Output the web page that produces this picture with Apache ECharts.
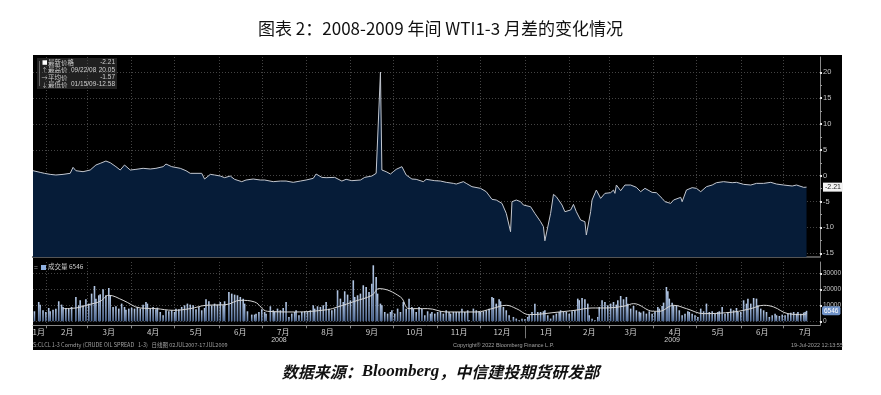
<!DOCTYPE html>
<html><head><meta charset="utf-8">
<script src="https://cdn.jsdelivr.net/npm/echarts@6/dist/echarts.min.js"></script>
<style>html,body{margin:0;padding:0;background:#fff}#c{width:881px;height:395px}</style>
</head><body><div id="c"></div>
<script>
// ---- spread (WTI 1-3) ----
const lineDates = ['2008-01-23','2008-01-28','2008-01-31','2008-02-04','2008-02-08','2008-02-13','2008-02-18','2008-02-20','2008-02-22','2008-02-27','2008-03-03','2008-03-07','2008-03-10','2008-03-14','2008-03-17','2008-03-21','2008-03-24','2008-03-27','2008-03-31','2008-04-04','2008-04-09','2008-04-14','2008-04-18','2008-04-23','2008-04-25','2008-04-29','2008-05-05','2008-05-09','2008-05-12','2008-05-16','2008-05-20','2008-05-22','2008-05-26','2008-05-29','2008-06-02','2008-06-05','2008-06-09','2008-06-12','2008-06-17','2008-06-20','2008-06-25','2008-06-30','2008-07-03','2008-07-09','2008-07-14','2008-07-18','2008-07-23','2008-07-28','2008-08-01','2008-08-06','2008-08-08','2008-08-12','2008-08-15','2008-08-21','2008-08-26','2008-08-29','2008-09-02','2008-09-08','2008-09-11','2008-09-16','2008-09-19','2008-09-22','2008-09-23','2008-09-26','2008-09-29','2008-10-01','2008-10-03','2008-10-07','2008-10-10','2008-10-14','2008-10-17','2008-10-22','2008-10-24','2008-10-30','2008-11-03','2008-11-07','2008-11-12','2008-11-14','2008-11-19','2008-11-21','2008-11-25','2008-12-01','2008-12-05','2008-12-09','2008-12-12','2008-12-16','2008-12-19','2008-12-22','2008-12-23','2008-12-26','2008-12-29','2008-12-31','2009-01-05','2009-01-08','2009-01-12','2009-01-14','2009-01-15','2009-01-19','2009-01-21','2009-01-23','2009-01-27','2009-01-29','2009-02-02','2009-02-04','2009-02-06','2009-02-09','2009-02-12','2009-02-13','2009-02-16','2009-02-17','2009-02-20','2009-02-23','2009-02-26','2009-03-02','2009-03-04','2009-03-05','2009-03-06','2009-03-09','2009-03-12','2009-03-16','2009-03-20','2009-03-23','2009-03-26','2009-03-31','2009-04-03','2009-04-07','2009-04-09','2009-04-13','2009-04-15','2009-04-20','2009-04-21','2009-04-24','2009-04-28','2009-05-01','2009-05-04','2009-05-08','2009-05-12','2009-05-15','2009-05-20','2009-05-26','2009-05-29','2009-06-03','2009-06-08','2009-06-12','2009-06-17','2009-06-22','2009-06-26','2009-07-01','2009-07-07','2009-07-10','2009-07-15','2009-07-17'];
const lineValues = [0.97,0.65,0.46,0.26,0.14,0.26,0.46,1.62,0.97,0.78,1.10,2.07,2.39,2.84,2.52,1.75,1.10,2.07,1.10,1.23,1.43,1.30,1.43,1.75,2.26,1.75,1.43,0.97,0.46,0.46,0.46,-0.64,0.26,0.14,-0.06,-0.38,-0.06,-0.70,-1.15,-0.83,-0.64,-0.83,-0.83,-1.15,-1.03,-1.03,-1.28,-1.03,-0.83,-0.51,0.33,-0.32,-0.38,-0.32,-1.03,-0.70,-0.96,-0.83,-0.32,-0.06,0.46,20.05,1.10,0.78,0.33,0.78,1.23,1.75,0.14,-0.64,-0.70,-1.15,-0.70,-0.96,-1.03,-1.28,-1.48,-1.61,-1.15,-1.48,-2.12,-2.44,-3.09,-4.57,-4.70,-5.35,-7.28,-10.83,-5.02,-4.70,-5.02,-5.67,-5.99,-7.28,-8.89,-9.86,-12.58,-7.28,-3.61,-4.06,-5.67,-6.96,-6.63,-5.54,-6.96,-8.57,-8.89,-11.47,-6.96,-4.70,-2.77,-4.38,-3.41,-3.28,-2.77,-3.41,-1.80,-2.90,-1.80,-1.80,-2.25,-3.09,-2.44,-3.22,-3.28,-4.38,-5.02,-5.35,-4.70,-4.18,-5.02,-2.77,-2.31,-2.44,-3.09,-2.12,-1.80,-1.35,-1.15,-1.35,-1.28,-1.67,-1.80,-1.48,-1.48,-1.28,-1.61,-1.80,-1.99,-1.80,-2.25,-2.21];

// ---- volume ----
const volDates = ['2008-01-24','2008-01-27','2008-01-28','2008-01-30','2008-02-01','2008-02-03','2008-02-04','2008-02-06','2008-02-08','2008-02-10','2008-02-12','2008-02-13','2008-02-15','2008-02-17','2008-02-19','2008-02-22','2008-02-24','2008-02-25','2008-02-27','2008-02-29','2008-03-02','2008-03-04','2008-03-06','2008-03-07','2008-03-09','2008-03-10','2008-03-12','2008-03-14','2008-03-16','2008-03-17','2008-03-19','2008-03-21','2008-03-23','2008-03-25','2008-03-27','2008-03-28','2008-03-30','2008-04-01','2008-04-03','2008-04-05','2008-04-07','2008-04-09','2008-04-11','2008-04-12','2008-04-14','2008-04-16','2008-04-18','2008-04-19','2008-04-21','2008-04-23','2008-04-25','2008-04-27','2008-04-29','2008-05-01','2008-05-02','2008-05-04','2008-05-06','2008-05-08','2008-05-10','2008-05-12','2008-05-14','2008-05-16','2008-05-18','2008-05-20','2008-05-22','2008-05-23','2008-05-25','2008-05-27','2008-05-29','2008-05-31','2008-06-02','2008-06-04','2008-06-05','2008-06-08',
'2008-06-10','2008-06-12','2008-06-14','2008-06-16','2008-06-18','2008-06-19','2008-06-21','2008-06-24','2008-06-26','2008-06-27','2008-06-29','2008-07-01','2008-07-03','2008-07-04','2008-07-07','2008-07-09','2008-07-10','2008-07-12','2008-07-14','2008-07-16','2008-07-18','2008-07-20','2008-07-22','2008-07-24','2008-07-25','2008-07-27','2008-07-29','2008-07-31','2008-08-02','2008-08-04','2008-08-06','2008-08-07','2008-08-09','2008-08-11','2008-08-13','2008-08-15','2008-08-17','2008-08-19','2008-08-21','2008-08-23','2008-08-25','2008-08-27','2008-08-28','2008-08-30','2008-09-01','2008-09-03','2008-09-04','2008-09-06','2008-09-08','2008-09-10','2008-09-12','2008-09-14','2008-09-16','2008-09-17','2008-09-19','2008-09-20','2008-09-22','2008-09-23','2008-09-25','2008-09-27','2008-09-29','2008-09-30','2008-10-02','2008-10-04','2008-10-06','2008-10-08','2008-10-10','2008-10-12','2008-10-14','2008-10-15','2008-10-17','2008-10-19','2008-10-21','2008-10-23','2008-10-25',
'2008-10-27','2008-10-28','2008-10-30','2008-11-01','2008-11-03','2008-11-05','2008-11-07','2008-11-09','2008-11-10','2008-11-12','2008-11-14','2008-11-16','2008-11-18','2008-11-20','2008-11-22','2008-11-23','2008-11-26','2008-11-28','2008-11-30','2008-12-01','2008-12-03','2008-12-05','2008-12-07','2008-12-09','2008-12-10','2008-12-12','2008-12-14','2008-12-15','2008-12-17','2008-12-19','2008-12-21','2008-12-22','2008-12-24','2008-12-26','2008-12-28','2008-12-30','2009-01-01','2009-01-03','2009-01-04','2009-01-06','2009-01-08','2009-01-10','2009-01-12','2009-01-14','2009-01-15','2009-01-17','2009-01-19','2009-01-21','2009-01-23','2009-01-25','2009-01-26','2009-01-28','2009-01-30','2009-02-01','2009-02-03','2009-02-05','2009-02-07','2009-02-08','2009-02-10','2009-02-12','2009-02-14','2009-02-15','2009-02-17','2009-02-19','2009-02-21','2009-02-22','2009-02-24','2009-02-26','2009-02-28','2009-03-02','2009-03-04','2009-03-06','2009-03-07','2009-03-09','2009-03-11',
'2009-03-13','2009-03-14','2009-03-16','2009-03-18','2009-03-20','2009-03-22','2009-03-23','2009-03-25','2009-03-27','2009-03-29','2009-03-31','2009-04-02','2009-04-04','2009-04-05','2009-04-07','2009-04-08','2009-04-10','2009-04-11','2009-04-12','2009-04-14','2009-04-15','2009-04-17','2009-04-19','2009-04-21','2009-04-23','2009-04-25','2009-04-26','2009-04-28','2009-04-30','2009-05-02','2009-05-04','2009-05-06','2009-05-08','2009-05-10','2009-05-12','2009-05-14','2009-05-16','2009-05-17','2009-05-19','2009-05-21','2009-05-23','2009-05-25','2009-05-27','2009-05-29','2009-05-30','2009-06-01','2009-06-03','2009-06-05','2009-06-06','2009-06-08','2009-06-10','2009-06-12','2009-06-13','2009-06-15','2009-06-17','2009-06-19','2009-06-21','2009-06-23','2009-06-25','2009-06-26','2009-06-28','2009-06-30','2009-07-02','2009-07-04','2009-07-06','2009-07-08','2009-07-10','2009-07-11','2009-07-13','2009-07-15','2009-07-16','2009-07-17'];
const volValues = [6250,12080,10420,6870,5830,8330,6250,7290,7920,12500,10420,8960,8330,7920,8960,15210,10000,13120,10000,13750,11040,17290,22080,14160,16250,16870,20000,16250,20830,16250,8960,9370,7920,11040,8960,7290,7920,8540,7920,8960,7920,10420,12080,11040,7920,8960,7500,8540,5830,3750,6870,6250,6870,5830,7920,7500,8960,10000,11040,10420,10000,7500,8960,6870,8330,13750,12500,10000,11040,10420,12080,10000,12500,18330,
17290,16660,16250,15210,14160,11040,6250,4170,4170,4790,5830,7500,5830,4790,9370,6870,6250,7920,6870,8330,12080,2710,4790,5830,6870,3750,5830,6250,6250,6870,10000,7920,9370,8960,10000,12080,7920,6870,7920,19370,14160,12080,18750,16660,13120,25620,15210,16250,17290,22500,21450,18330,23540,35000,27700,17290,11040,10000,5830,4790,5830,6870,4790,7920,5830,12080,7920,14160,8960,7920,5830,8960,7920,3750,6250,
4790,5830,4790,5830,6250,4790,6870,5830,4790,5830,5830,5830,7920,5830,6870,620,7920,6870,6250,5830,6250,6870,7920,15210,14580,11040,13750,12500,8960,6870,3750,400,2710,1670,620,1670,1250,2710,3750,5830,11040,5830,5830,6250,6870,3750,1670,3750,4790,5830,6870,6250,5830,4790,6250,6870,14160,13120,14580,13750,11040,3750,1670,620,2710,8960,13120,12080,10000,11040,12080,10420,13120,15830,13750,
15210,11040,7920,9580,6870,6000,5420,6250,4790,6250,4790,5830,8960,7920,9580,11660,21450,18750,14160,11660,10000,10000,6870,3750,4790,6250,5830,4790,3750,2710,7920,6250,11040,5830,6250,4790,5830,6250,8960,4790,5830,7920,6870,8330,5830,5830,13120,11040,14160,11040,14580,14160,10000,7920,6870,5830,2710,3750,4790,3750,3330,4170,3750,4790,5420,5830,4790,5830,4790,5420,5830,6546];

// ---- volume moving average ----
const maDates = ['2008-02-13','2008-02-22','2008-03-02','2008-03-10','2008-03-16','2008-03-26','2008-04-07','2008-04-18','2008-04-30','2008-05-12','2008-05-23','2008-06-06','2008-06-16','2008-06-26','2008-07-05','2008-07-24','2008-08-16','2008-08-23','2008-09-04','2008-09-16','2008-09-21','2008-10-06','2008-10-12','2008-10-25','2008-11-07','2008-11-28','2008-12-09','2008-12-19','2008-12-26','2009-01-04','2009-01-25','2009-02-05','2009-02-17','2009-02-26','2009-03-12','2009-03-18','2009-04-01','2009-04-05','2009-04-15','2009-04-24','2009-05-06','2009-05-27','2009-06-08','2009-06-17','2009-06-24','2009-07-04','2009-07-15','2009-07-17'];
const maValues = [7920,8330,10420,12500,16250,13120,8330,7920,6870,7920,10000,10420,13120,12080,6250,5830,7290,8960,12500,16250,20420,15210,7920,7920,5830,5830,7920,10000,7920,4170,5830,6870,8330,8330,9580,11040,6250,6250,10000,7920,4790,5830,7920,10000,8960,4790,4170,4790];

// ---- axes ----
const monthStarts = ['2008-02-01','2008-03-01','2008-04-01','2008-05-01','2008-06-01','2008-07-01','2008-08-01','2008-09-01','2008-10-01','2008-11-01','2008-12-01','2009-01-01','2009-02-01','2009-03-01','2009-04-01','2009-05-01','2009-06-01','2009-07-01'];
const monthLabels = ['1月','2月','3月','4月','5月','6月','7月','8月','9月','10月','11月','12月','1月','2月','3月','4月','5月','6月','7月'];
const monthLabelDates = ['2008-01-27','2008-02-16','2008-03-16','2008-04-16','2008-05-16','2008-06-16','2008-07-16','2008-08-16','2008-09-16','2008-10-16','2008-11-16','2008-12-16','2009-01-16','2009-02-15','2009-03-16','2009-04-16','2009-05-16','2009-06-16','2009-07-16'];
const yearLabels = ['2008','2009'];
const yearLabelDates = ['2008-07-13','2009-04-14'];
const yearBreak = ['2009-01-01'];
const spreadTicks = [-15,-10,-5,0,5,10,15,20];
const spreadMinorTicks = [-12.5,-7.5,-2.5,2.5,7.5,12.5,17.5];
const volTicks = [0,10000,20000,30000];
const xMinDate = '2008-01-23 00:00:00', xMaxDate = '2009-07-26 10:00:00';
const lastSpread = -2.21, lastVol = 6546;
const statRows = [['最新价格','','-2.21'],['最高价','09/22/08','20.05'],['平均价','','-1.57'],['最低价','01/15/09','-12.58']];

const ts = s => echarts.time.parse(s).getTime();
const xMin = ts(xMinDate), xMax = ts(xMaxDate);
const monthLabelMap = {}; monthLabelDates.forEach((d,i)=>{monthLabelMap[ts(d)] = monthLabels[i];});
const yearLabelMap = {}; yearLabelDates.forEach((d,i)=>{yearLabelMap[ts(d)] = yearLabels[i];});

const CJK = '"Noto Sans CJK SC", sans-serif';
const grid0 = {left:33, top:57, width:787, height:200};
const grid1 = {left:33, top:262, width:787, height:63.3};
const dotted = {type:[1,2], color:'#444', width:1};
const hidden = 'rgba(0,0,0,0)';

const chart = echarts.init(document.getElementById('c'), null, {renderer:'canvas'});
const legendText = [];
statRows.forEach((r,i)=>{
  const y = 62.5 + i*7.4;
  legendText.push({type:'text', x:48, y:y, z:20, silent:true, style:{text:r[0], fill:'#cfcfcf', font:'6.5px '+CJK, verticalAlign:'middle'}});
  if (r[1]) legendText.push({type:'text', x:71, y:y, z:20, silent:true, style:{text:r[1], fill:'#cfcfcf', font:'6.5px "Liberation Sans"', verticalAlign:'middle'}});
  legendText.push({type:'text', x:115, y:y, z:20, silent:true, style:{text:r[2], fill:'#cfcfcf', font:'6.5px "Liberation Sans"', align:'right', verticalAlign:'middle'}});
});
const iconGlyphs = ['','↑','→','↓'];
iconGlyphs.forEach((g,i)=>{ if(g) legendText.push({type:'text', x:44.5, y:62.5+i*7.4, z:20, silent:true, style:{text:g, fill:'#bbb', font:'6px '+CJK, align:'center', verticalAlign:'middle'}}); });

chart.setOption({
  backgroundColor:'#ffffff',
  animation:false,
  grid:[grid0, grid1],
  xAxis:[
    {type:'value', gridIndex:0, position:'bottom', min:xMin, max:xMax,
     axisLine:{show:true, onZero:false, lineStyle:{color:'#555', width:2}},
     axisTick:{show:false, customValues:monthStarts.map(ts)},
     axisLabel:{show:false},
     splitLine:{show:true, lineStyle:dotted}},
    {type:'value', gridIndex:1, position:'bottom', min:xMin, max:xMax,
     axisLine:{show:true, onZero:false, lineStyle:{color:'#888', width:1}},
     axisTick:{show:true, length:3, customValues:monthStarts.map(ts), lineStyle:{color:'#888'}},
     axisLabel:{show:true, customValues:monthLabelDates.map(ts), margin:3, color:'#cfcfcf', fontSize:8, fontFamily:CJK,
       formatter:v=>monthLabelMap[v]||''},
     splitLine:{show:true, lineStyle:dotted}},
    {type:'value', gridIndex:1, position:'bottom', min:xMin, max:xMax,
     axisLine:{show:false, onZero:false},
     axisTick:{show:true, length:13, customValues:yearBreak.map(ts), lineStyle:{color:'#777'}},
     axisLabel:{show:true, customValues:yearLabelDates.map(ts), margin:11, color:'#cfcfcf', fontSize:7, fontFamily:'Liberation Sans',
       formatter:v=>yearLabelMap[v]||''},
     splitLine:{show:false}}
  ],
  yAxis:[
    {type:'value', gridIndex:0, position:'right', min:-15.72, max:22.96,
     axisLine:{show:true, onZero:false, lineStyle:{color:'#8a8a8a'}},
     axisTick:{show:true, length:2, customValues:spreadTicks, lineStyle:{color:'#e6e6e6', width:2}},
     axisLabel:{customValues:spreadTicks, color:'#c4c4c4', fontSize:7.5, margin:3, fontFamily:'Liberation Sans', formatter:v=>String(v)},
     splitLine:{show:true, lineStyle:dotted}},
    {type:'value', gridIndex:0, position:'right', min:-15.72, max:22.96,
     axisLine:{show:false, onZero:false},
     axisTick:{show:true, length:2, customValues:spreadMinorTicks, lineStyle:{color:'#999', width:1}},
     axisLabel:{show:false}, splitLine:{show:false}},
    {type:'value', gridIndex:1, position:'right', min:-2500, max:37060,
     axisLine:{show:true, onZero:false, lineStyle:{color:'#8a8a8a'}},
     axisTick:{show:true, length:2, customValues:volTicks, lineStyle:{color:'#e6e6e6', width:2}},
     axisLabel:{customValues:volTicks, color:'#c4c4c4', fontSize:6.5, margin:3, fontFamily:'Liberation Sans', formatter:v=>String(v)},
     splitLine:{show:true, lineStyle:dotted}}
  ],
  series:[
    {type:'line', xAxisIndex:0, yAxisIndex:0, symbol:'none', z:5,
     data:lineDates.map((d,i)=>[ts(d), lineValues[i]]),
     lineStyle:{color:'#c3c7cf', width:1},
     areaStyle:{color:'#061c38', opacity:1, origin:'start'},
     markLine:{silent:true, symbol:'none', animation:false, lineStyle:{color:hidden, width:0},
       label:{show:true, position:'end', distance:3, formatter:String(lastSpread), backgroundColor:'#f2f2f2', color:'#222', fontSize:7, padding:[1,2,1,2], fontFamily:'Liberation Sans'},
       data:[{yAxis:lastSpread}]}},
    {type:'bar', xAxisIndex:1, yAxisIndex:2, barWidth:1.6, z:3,
     data:volDates.map((d,i)=>[ts(d), volValues[i]]),
     itemStyle:{color:new echarts.graphic.LinearGradient(0,0,0,1,[{offset:0,color:'#b7cbe8'},{offset:1,color:'#56709a'}])},
     markLine:{silent:true, symbol:'none', animation:false, lineStyle:{color:hidden, width:0},
       label:{show:true, position:'end', distance:2, formatter:String(lastVol), backgroundColor:'#6f92c8', color:'#fff', fontSize:6.5, padding:[1,2,1,2], borderRadius:2, fontFamily:'Liberation Sans'},
       data:[{yAxis:lastVol}]}},
    {type:'line', xAxisIndex:1, yAxisIndex:2, symbol:'none', smooth:0.4, z:6,
     data:maDates.map((d,i)=>[ts(d), maValues[i]]),
     lineStyle:{color:'#d6d6d6', width:1}}
  ],
  graphic:[
    {type:'rect', z:-100, silent:true, shape:{x:33, y:55, width:809, height:295}, style:{fill:'#000'}},
    {type:'text', left:'center', top:20, style:{text:'图表 2：2008-2009 年间 WTI1-3 月差的变化情况', fill:'#111', font:'17px '+CJK}},
    {type:'text', left:'center', top:363, style:{text:'{a|数据来源：}{b|Bloomberg}{a|，中信建投期货研发部}',
      rich:{a:{font:'italic bold 16px '+CJK, fill:'#111'}, b:{font:'italic bold 17px "Liberation Serif"', fill:'#111'}}}},
    {type:'rect', z:15, silent:true, shape:{x:37, y:58, width:80, height:31}, style:{fill:'rgba(70,70,70,0.45)'}},
    {type:'rect', z:20, silent:true, shape:{x:42.5, y:60.3, width:4.5, height:4.5}, style:{fill:'#ffffff'}},
    {type:'line', z:20, silent:true, shape:{x1:39.5, y1:61, x2:39.5, y2:86}, style:{stroke:'#888', lineWidth:0.7}},
    ...legendText,
    {type:'text', left:34, top:264, z:20, style:{text:'=', fill:'#999', font:'7px '+CJK}},
    {type:'rect', z:20, silent:true, shape:{x:41, y:265, width:5, height:5}, style:{fill:'#8fb0e0'}},
    {type:'text', left:48, top:263.5, z:20, style:{text:'成交量 6546', fill:'#cfcfcf', font:'6.5px '+CJK}},
    {type:'text', left:33, top:342, z:20, style:{text:'S:CLCL 1-3 Comdty (CRUDE OIL SPREAD   1-3)   日线图 02JUL2007-17JUL2009', fill:'#a0a0a0', font:'5.5px '+CJK}},
    {type:'text', left:453, top:342, z:20, style:{text:'Copyright® 2022 Bloomberg Finance L.P.', fill:'#a0a0a0', font:'5.5px "Liberation Sans"'}},
    {type:'text', left:791, top:342, z:20, style:{text:'19-Jul-2022 12:13:55', fill:'#a0a0a0', font:'5.5px "Liberation Sans"'}}
  ]
});
</script></body></html>
